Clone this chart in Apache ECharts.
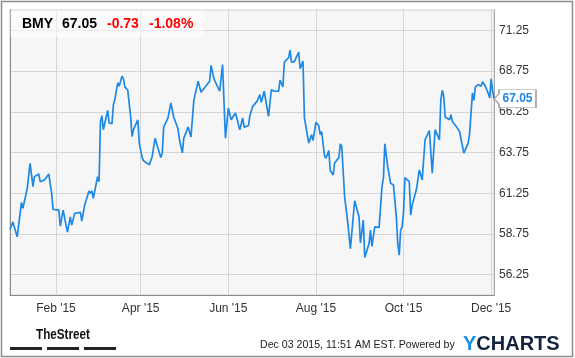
<!DOCTYPE html>
<html>
<head>
<meta charset="utf-8">
<script src="https://cdn.jsdelivr.net/npm/echarts@6/dist/echarts.min.js"></script>
<style>
html, body { margin: 0; padding: 0; background: #fff; }
#chart { width: 575px; height: 358px; }
</style>
</head>
<body>
<div id="chart"></div>
<script>
// BMY daily close
const dates = [
    '2014-12-31', '2015-01-02', '2015-01-05', '2015-01-06', '2015-01-08', '2015-01-09', '2015-01-12', '2015-01-14',
    '2015-01-15', '2015-01-16', '2015-01-17', '2015-01-20', '2015-01-21', '2015-01-24', '2015-01-27', '2015-01-29',
    '2015-01-30', '2015-02-03', '2015-02-04', '2015-02-06', '2015-02-08', '2015-02-09', '2015-02-11', '2015-02-12',
    '2015-02-14', '2015-02-18', '2015-02-19', '2015-02-21', '2015-02-24', '2015-02-25', '2015-02-26', '2015-02-27',
    '2015-03-02', '2015-03-03', '2015-03-04', '2015-03-05', '2015-03-06', '2015-03-09', '2015-03-10', '2015-03-12',
    '2015-03-13', '2015-03-14', '2015-03-16', '2015-03-17', '2015-03-19', '2015-03-20', '2015-03-21', '2015-03-23',
    '2015-03-25', '2015-03-26', '2015-03-27', '2015-03-30', '2015-03-31', '2015-04-02', '2015-04-03', '2015-04-07',
    '2015-04-08', '2015-04-09', '2015-04-10', '2015-04-11', '2015-04-13', '2015-04-14', '2015-04-15', '2015-04-16',
    '2015-04-17', '2015-04-20', '2015-04-22', '2015-04-24', '2015-04-27', '2015-04-28', '2015-04-30', '2015-05-01',
    '2015-05-04', '2015-05-06', '2015-05-08', '2015-05-11', '2015-05-13', '2015-05-14', '2015-05-19', '2015-05-20',
    '2015-05-22', '2015-05-26', '2015-05-28', '2015-05-30', '2015-06-01', '2015-06-03', '2015-06-04', '2015-06-06',
    '2015-06-09', '2015-06-11', '2015-06-12', '2015-06-15', '2015-06-16', '2015-06-18', '2015-06-21', '2015-06-23',
    '2015-06-24', '2015-06-26', '2015-06-29', '2015-07-01', '2015-07-03', '2015-07-06', '2015-07-07', '2015-07-09',
    '2015-07-10', '2015-07-13', '2015-07-14', '2015-07-15', '2015-07-17', '2015-07-20', '2015-07-21', '2015-07-23',
    '2015-07-24', '2015-07-27', '2015-07-29', '2015-07-30', '2015-08-01', '2015-08-03', '2015-08-04', '2015-08-05',
    '2015-08-07', '2015-08-08', '2015-08-10', '2015-08-11', '2015-08-13', '2015-08-14', '2015-08-17', '2015-08-18',
    '2015-08-19', '2015-08-21', '2015-08-23', '2015-08-25', '2015-08-28', '2015-08-31', '2015-09-01', '2015-09-03',
    '2015-09-04', '2015-09-07', '2015-09-08', '2015-09-09', '2015-09-11', '2015-09-14', '2015-09-16', '2015-09-17',
    '2015-09-18', '2015-09-20', '2015-09-22', '2015-09-24', '2015-09-26', '2015-09-27', '2015-09-28', '2015-09-29',
    '2015-09-30', '2015-10-01', '2015-10-02', '2015-10-05', '2015-10-06', '2015-10-07', '2015-10-08', '2015-10-10',
    '2015-10-12', '2015-10-14', '2015-10-16', '2015-10-19', '2015-10-21', '2015-10-23', '2015-10-26', '2015-10-27',
    '2015-10-28', '2015-10-29', '2015-10-30', '2015-11-02', '2015-11-03', '2015-11-04', '2015-11-07', '2015-11-09',
    '2015-11-10', '2015-11-12', '2015-11-15', '2015-11-16', '2015-11-18', '2015-11-19', '2015-11-20', '2015-11-22',
    '2015-11-23', '2015-11-24', '2015-11-25', '2015-11-27', '2015-11-29', '2015-11-30', '2015-12-01', '2015-12-02',
    '2015-12-03'
];
const prices = [
    59.04, 59.49, 58.57, 58.47, 60.69, 60.32, 61.55, 63.09,
    62.99, 61.65, 62.27, 62.43, 61.96, 62.06, 62.43, 61.24,
    60.26, 60.21, 59.23, 60.21, 59.29, 58.86, 59.80, 59.29,
    60.01, 60.07, 59.54, 60.52, 61.39, 61.24, 61.39, 60.94,
    62.27, 61.96, 65.66, 66.01, 65.15, 66.34, 65.56, 65.52,
    66.69, 67.00, 68.03, 67.82, 68.43, 68.27, 67.78, 67.57,
    65.97, 64.73, 65.15, 65.76, 64.33, 63.44, 63.24, 62.99,
    62.99, 63.50, 63.44, 64.63, 64.02, 64.02, 63.44, 63.71,
    65.31, 65.87, 66.79, 65.93, 65.19, 64.53, 63.73, 64.63,
    65.31, 64.70, 66.95, 68.13, 67.45, 67.41, 68.13, 69.09,
    68.27, 67.51, 69.15, 64.63, 66.48, 65.76, 65.72, 66.18,
    65.15, 65.87, 65.31, 65.39, 66.01, 66.58, 66.89, 67.30,
    66.83, 67.51, 65.97, 67.61, 67.51, 67.51, 68.19, 67.78,
    69.30, 69.57, 70.04, 69.30, 69.33, 69.91, 68.89, 69.36,
    65.87, 64.33, 64.84, 64.49, 65.60, 65.39, 64.84, 65.04,
    63.54, 63.40, 63.87, 62.64, 62.37, 63.09, 63.46, 64.28,
    64.12, 61.03, 59.60, 57.85, 60.79, 59.80, 58.20, 59.60,
    57.30, 58.16, 58.98, 57.99, 59.18, 59.15, 61.65, 62.17,
    64.28, 62.88, 61.86, 61.76, 59.80, 58.16, 57.44, 58.98,
    59.18, 60.05, 62.21, 61.96, 59.90, 60.52, 60.58, 61.49,
    62.68, 62.06, 64.53, 65.10, 62.48, 65.15, 64.53, 67.00,
    67.57, 67.20, 65.93, 65.76, 66.07, 65.66, 65.31, 65.04,
    64.94, 63.71, 64.33, 64.88, 67.41, 66.95, 67.76, 67.92,
    67.96, 67.82, 68.09, 67.82, 67.37, 67.10, 68.27, 67.57,
    67.05
];
// tick labels
const xTicks = ['2015-02-01', '2015-04-01', '2015-06-01', '2015-08-01', '2015-10-01', '2015-12-01'];
const yTicks = [56.25, 58.75, 61.25, 63.75, 66.25, 68.75, 71.25];
const monthNames = ['Jan', 'Feb', 'Mar', 'Apr', 'May', 'Jun', 'Jul', 'Aug', 'Sep', 'Oct', 'Nov', 'Dec'];

// header quote
const ticker = 'BMY';
const lastPrice = '67.05';
const change = '-0.73';
const changePct = '-1.08%';
const stamp = 'Dec 03 2015, 11:51 AM EST. Powered by';

const FONT = '"Liberation Sans", Arial, sans-serif';
const LINE_BLUE = '#1e88e5';

// one category per calendar day, so the axis runs in real time
function pad(n) { return n < 10 ? '0' + n : '' + n; }
function calendarDays(from, to) {
    const out = [];
    const a = from.split('-'), b = to.split('-');
    const d = new Date(+a[0], +a[1] - 1, +a[2]);
    const end = new Date(+b[0], +b[1] - 1, +b[2]);
    while (d <= end) {
        out.push(d.getFullYear() + '-' + pad(d.getMonth() + 1) + '-' + pad(d.getDate()));
        d.setDate(d.getDate() + 1);
    }
    return out;
}
const days = calendarDays(dates[0], dates[dates.length - 1]);
const seriesData = dates.map((d, i) => [d, prices[i]]);
const last = seriesData[seriesData.length - 1];
const isTick = (index, value) => xTicks.indexOf(value) >= 0;

let myChart = echarts.init(document.getElementById('chart'));

myChart.setOption({
    animation: false,
    backgroundColor: '#fff',
    textStyle: { fontFamily: FONT },
    grid: {
        left: 10,
        right: 81,
        top: 10,
        bottom: 63,
        show: true,
        backgroundColor: '#f6f6f6',
        borderColor: '#cfcfcf',
        borderWidth: 1
    },
    xAxis: {
        type: 'category',
        data: days,
        boundaryGap: false,
        axisLine: { show: true, lineStyle: { color: '#8a8a8a', width: 1 } },
        axisTick: { show: false },
        axisLabel: {
            interval: isTick,
            color: '#333',
            fontSize: 12,
            fontFamily: FONT,
            margin: 8,
            formatter: function (v) {
                const p = v.split('-');
                return monthNames[+p[1] - 1] + " '" + p[0].slice(2);
            }
        },
        splitLine: { show: true, interval: isTick, lineStyle: { color: '#d6d6d6', width: 1 } }
    },
    yAxis: [
        {
            type: 'value',
            position: 'right',
            min: 55,
            max: 72.5,
            interval: 1.25,
            axisLine: { show: true, lineStyle: { color: '#a8a8a8' } },
            axisTick: { show: false },
            axisLabel: {
                color: '#333',
                fontSize: 12,
                fontFamily: FONT,
                margin: 5,
                formatter: function (v) {
                    return yTicks.some(t => Math.abs(t - v) < 1e-6) ? v.toFixed(2) : '';
                }
            },
            // every other line is a real grid line (56.25, 58.75, ...)
            splitLine: { show: true, lineStyle: { color: ['rgba(0,0,0,0)', '#d6d6d6'], width: 1 } }
        },
        {
            type: 'value',
            position: 'left',
            min: 55,
            max: 72.5,
            axisLine: { show: true, lineStyle: { color: '#8a8a8a' } },
            axisTick: { show: false },
            axisLabel: { show: false },
            splitLine: { show: false }
        }
    ],
    series: [
        {
            name: ticker,
            type: 'line',
            data: seriesData,
            showSymbol: false,
            symbol: 'none',
            lineStyle: { color: LINE_BLUE, width: 1.7 },
            markPoint: {
                symbol: 'path://M0 9 L5 4 L5 0 L42 0 L42 18 L5 18 L5 14 Z',
                symbolSize: [42, 18],
                symbolOffset: [21, 0],
                itemStyle: { color: '#fff', borderColor: '#999', borderWidth: 1 },
                label: {
                    show: true,
                    position: 'inside',
                    offset: [2.5, 0],
                    color: LINE_BLUE,
                    fontWeight: 'bold',
                    fontSize: 12,
                    fontFamily: FONT,
                    formatter: function (p) { return p.value.toFixed(2); }
                },
                data: [{ coord: last, value: last[1] }]
            }
        }
    ],
    graphic: [
        // quote box in the top-left of the plot
        {
            type: 'rect',
            shape: { x: 10.5, y: 10.5, width: 194, height: 27 },
            style: { fill: 'rgba(255,255,255,0.5)' },
            z: 10
        },
        {
            type: 'text', left: 22, top: 17, z: 11,
            style: { text: ticker, fill: '#000', font: 'bold 14px ' + FONT }
        },
        {
            type: 'text', left: 62, top: 17, z: 11,
            style: { text: lastPrice, fill: '#000', font: 'bold 14px ' + FONT }
        },
        {
            type: 'text', left: 107, top: 17, z: 11,
            style: { text: change, fill: '#f00', font: 'bold 14px ' + FONT }
        },
        {
            type: 'text', left: 149, top: 17, z: 11,
            style: { text: changePct, fill: '#f00', font: 'bold 14px ' + FONT }
        },
        // footer: TheStreet logo (condensed)
        {
            type: 'text', x: 36, y: 327, scaleX: 0.78, z: 11,
            style: { text: 'TheStreet', fill: '#111', font: 'bold 15px ' + FONT }
        },
        { type: 'rect', shape: { x: 10, y: 347, width: 32, height: 3 }, style: { fill: '#222' } },
        { type: 'rect', shape: { x: 47, y: 347, width: 32, height: 3 }, style: { fill: '#222' } },
        { type: 'rect', shape: { x: 84, y: 347, width: 32, height: 3 }, style: { fill: '#222' } },
        // footer: timestamp and YCharts logo
        {
            type: 'text', left: 260, top: 340, z: 11,
            style: { text: stamp, fill: '#222', font: '10.6px ' + FONT }
        },
        {
            type: 'text', left: 463, top: 334, z: 11,
            style: {
                text: '{y|Y}{c|CHARTS}',
                rich: {
                    y: { fill: '#1a8fe3', font: 'bold 20px ' + FONT },
                    c: { fill: '#13233f', font: 'bold 20px ' + FONT }
                }
            }
        },
        // outer frame
        {
            type: 'rect',
            shape: { x: 1.5, y: 1.5, width: 571, height: 355 },
            style: { fill: 'none', stroke: '#8c8c8c', lineWidth: 1.5 },
            z: 20
        }
    ]
});
window.addEventListener('resize', function () {
    myChart.resize();
});
</script>
</body>
</html>
